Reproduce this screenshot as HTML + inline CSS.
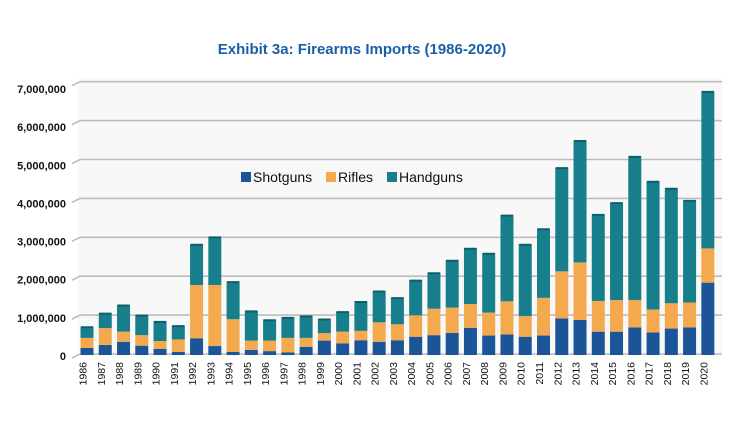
<!DOCTYPE html>
<html><head><meta charset="utf-8">
<style>
html,body{margin:0;padding:0;background:#fff;}
svg{display:block;font-family:"Liberation Sans",Arial,sans-serif;}
</style></head>
<body>
<svg id="chart" width="744" height="432" viewBox="0 0 744 432">
  <rect x="0" y="0" width="744" height="432" fill="#fff"/>
  <text x="362" y="54" text-anchor="middle" font-size="15" font-weight="bold" fill="#1a5fa8">Exhibit 3a: Firearms Imports (1986-2020)</text>
  <rect x="78" y="78" width="644" height="278" fill="#f8f8f8"/>
  <g id="grid"></g>
  <g id="yticks"></g>
  <g id="bars"></g>
  <g id="xticks"></g>
  <g>
    <g>
      <rect x="241" y="172" width="10" height="10" fill="#1b5597"/>
      <text x="253" y="182" font-size="14" fill="#111">Shotguns</text>
    </g>
    <g>
      <rect x="326" y="172" width="10" height="10" fill="#f5a94e"/>
      <text x="338" y="182" font-size="14" fill="#111">Rifles</text>
    </g>
    <g>
      <rect x="387" y="172" width="10" height="10" fill="#177f8b"/>
      <text x="399" y="182" font-size="14" fill="#111">Handguns</text>
    </g>
  </g>
</svg>
<script>
const years = ["1986","1987","1988","1989","1990","1991","1992","1993","1994","1995","1996","1997","1998","1999","2000","2001","2002","2003","2004","2005","2006","2007","2008","2009","2010","2011","2012","2013","2014","2015","2016","2017","2018","2019","2020"];
const shotguns = [0.18,0.26,0.34,0.24,0.16,0.08,0.43,0.23,0.08,0.13,0.10,0.07,0.21,0.37,0.30,0.38,0.34,0.38,0.47,0.51,0.57,0.70,0.50,0.53,0.47,0.50,0.94,0.90,0.60,0.60,0.71,0.58,0.68,0.71,1.86];
const rifles = [0.26,0.43,0.26,0.27,0.20,0.32,1.37,1.57,0.84,0.24,0.27,0.37,0.23,0.19,0.30,0.24,0.50,0.41,0.55,0.68,0.65,0.61,0.59,0.85,0.53,0.97,1.21,1.48,0.79,0.81,0.70,0.59,0.65,0.64,0.88];
const handguns = [0.26,0.36,0.66,0.49,0.48,0.33,1.02,1.21,0.94,0.74,0.51,0.50,0.54,0.34,0.49,0.73,0.78,0.66,0.88,0.90,1.19,1.41,1.50,2.19,1.82,1.75,2.64,3.11,2.20,2.48,3.67,3.27,2.93,2.60,4.01];
const yTicks = [0,1,2,3,4,5,6,7];
const yTickLabels = ["0","1,000,000","2,000,000","3,000,000","4,000,000","5,000,000","6,000,000","7,000,000"];

const NS = "http://www.w3.org/2000/svg";
const y0 = 355, pxPerM = 38.9;
const yScale = v => y0 - v * pxPerM;
const labelScale = v => 356 - v * 38.14;
const xScale = i => 87 + i * 18.26;
const bw = 13;
function mk(tag, attrs, parent){const e=document.createElementNS(NS,tag);for(const k in attrs)e.setAttribute(k,attrs[k]);parent.appendChild(e);return e;}

const grid = document.getElementById('grid');
const yt = document.getElementById('yticks');
yTicks.forEach((t,i)=>{
  const y = yScale(t);
  const l = mk('path',{d:`M72 ${y+3} L80 ${y-1} L722 ${y-1}`,stroke:'#bdbdbd','stroke-width':1.6,fill:'none'},grid);
  
  
  const tx = mk('text',{x:66,y:labelScale(t)+4,'text-anchor':'end','font-size':11,'font-weight':'bold',fill:'#111'},yt);
  tx.textContent = yTickLabels[i];
  
  
});

const bars = document.getElementById('bars');
const series = [[shotguns,'#1b5597','shotguns'],[rifles,'#f5a94e','rifles'],[handguns,'#177f8b','handguns']];
years.forEach((yr,i)=>{
  let base = 0;
  const cx = xScale(i);
  series.forEach(([arr,col,nm])=>{
    const v = arr[i];
    const top = base + v;
    const r = mk('rect',{x:cx-bw/2,y:yScale(top),width:bw,height:yScale(base)-yScale(top),fill:col},bars);
    
    
    base = top;
  });
  const cap = mk('rect',{x:cx-bw/2,y:yScale(base)-1.5,width:bw,height:2,fill:'#0f5f68',rx:1},bars);
  
  
});

const xt = document.getElementById('xticks');
years.forEach((yr,i)=>{
  const x = xScale(i) - 4;
  const t = mk('text',{x:x,y:362,'font-size':10.5,fill:'#111','text-anchor':'end',transform:`rotate(-90 ${x} 362)`},xt);
  t.setAttribute('dy','3.5');
  t.textContent = yr;
  
  
});
</script>
</body></html>
